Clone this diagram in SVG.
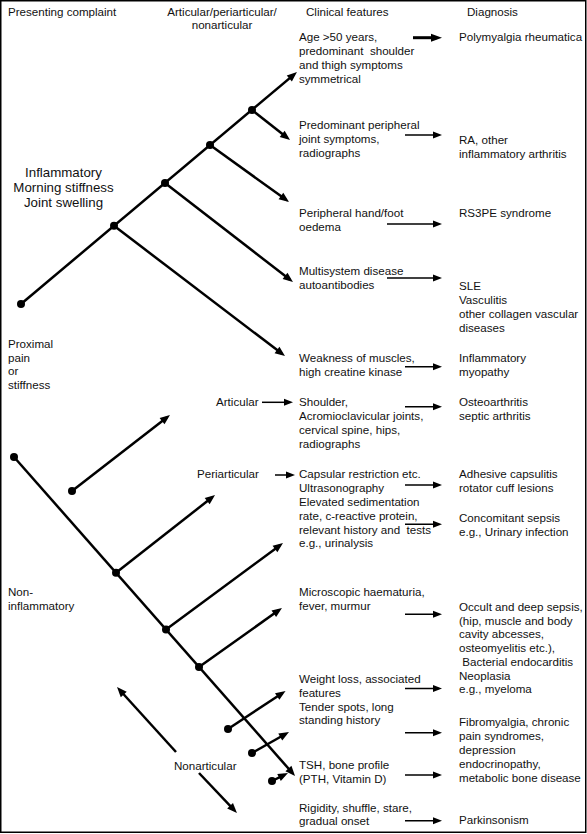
<svg xmlns="http://www.w3.org/2000/svg" width="587" height="834" viewBox="0 0 587 834">
<style>
text{font-family:"Liberation Sans",Arial,sans-serif;font-size:11.6px;fill:#111;white-space:pre}
.big{font-size:13.3px;text-anchor:middle}
.mid{text-anchor:middle}
.t{stroke:#000;stroke-width:2.5;fill:none}
.h{stroke:#000;stroke-width:1.5;fill:none}
.hk{stroke:#000;stroke-width:3;fill:none}
.d{fill:#000}
</style>
<defs>
<marker id="ah" markerUnits="userSpaceOnUse" markerWidth="10" markerHeight="8" refX="6" refY="4" orient="auto" overflow="visible"><path d="M0,0 L10,4 L0,8 z" fill="#000"/></marker>
<marker id="as" markerUnits="userSpaceOnUse" markerWidth="9" markerHeight="7" refX="6" refY="3.5" orient="auto" overflow="visible"><path d="M0,0 L9,3.5 L0,7 z" fill="#000"/></marker>
<marker id="ak" markerUnits="userSpaceOnUse" markerWidth="11" markerHeight="8" refX="6" refY="4" orient="auto" overflow="visible"><path d="M0,0 L11,4 L0,8 z" fill="#000"/></marker>
</defs>
<rect x="0.75" y="0.75" width="585" height="831.5" fill="#fff" stroke="#000" stroke-width="1.5"/>

<g id="headers">
<text x="8" y="15.5">Presenting complaint</text>
<text class="mid" x="222" y="15.5">Articular/periarticular/</text>
<text class="mid" x="222" y="28.5">nonarticular</text>
<text x="306" y="15.5">Clinical features</text>
<text x="467" y="15.5">Diagnosis</text>
</g>

<g id="inflammatory">
<text class="big" x="63.5" y="176.5">Inflammatory</text>
<text class="big" x="63.5" y="191.5">Morning stiffness</text>
<text class="big" x="63.5" y="206.5">Joint swelling</text>
</g>
<g id="proximal">
<text x="8" y="347.7">Proximal</text>
<text x="8" y="361.5">pain</text>
<text x="8" y="375.3">or</text>
<text x="8" y="389.3">stiffness</text>
</g>
<g id="noninflammatory">
<text x="8" y="595.7">Non-</text>
<text x="8" y="609.5">inflammatory</text>
</g>
<g id="articular"><text x="216" y="406">Articular</text></g>
<g id="periarticular"><text x="197" y="478">Periarticular</text></g>
<g id="nonarticular"><text x="174" y="770">Nonarticular</text></g>

<g id="cf-age">
<text x="299" y="41">Age &gt;50 years,</text>
<text x="299" y="55">predominant  shoulder</text>
<text x="299" y="69">and thigh symptoms</text>
<text x="299" y="83">symmetrical</text>
</g>
<g id="dx-pmr"><text x="459" y="41">Polymyalgia rheumatica</text></g>

<g id="cf-peripheral">
<text x="299" y="129">Predominant peripheral</text>
<text x="299" y="143">joint symptoms,</text>
<text x="299" y="157">radiographs</text>
</g>
<g id="dx-ra">
<text x="459" y="144">RA, other</text>
<text x="459" y="158">inflammatory arthritis</text>
</g>

<g id="cf-oedema">
<text x="299" y="216.7">Peripheral hand/foot</text>
<text x="299" y="230.7">oedema</text>
</g>
<g id="dx-rs3pe"><text x="459" y="216.7">RS3PE syndrome</text></g>

<g id="cf-multisystem">
<text x="299" y="275">Multisystem disease</text>
<text x="299" y="289">autoantibodies</text>
</g>
<g id="dx-sle">
<text x="459" y="290">SLE</text>
<text x="459" y="304">Vasculitis</text>
<text x="459" y="318">other collagen vascular</text>
<text x="459" y="332">diseases</text>
</g>

<g id="cf-weakness">
<text x="299" y="361.7">Weakness of muscles,</text>
<text x="299" y="375.7">high creatine kinase</text>
</g>
<g id="dx-myopathy">
<text x="459" y="361.7">Inflammatory</text>
<text x="459" y="375.7">myopathy</text>
</g>

<g id="cf-shoulder">
<text x="299" y="405.7">Shoulder,</text>
<text x="299" y="419.7">Acromioclavicular joints,</text>
<text x="299" y="433.7">cervical spine, hips,</text>
<text x="299" y="447.5">radiographs</text>
</g>
<g id="dx-oa">
<text x="459" y="405.7">Osteoarthritis</text>
<text x="459" y="419.7">septic arthritis</text>
</g>

<g id="cf-capsular">
<text x="299" y="477.5">Capsular restriction etc.</text>
<text x="299" y="491.5">Ultrasonography</text>
<text x="299" y="505.5">Elevated sedimentation</text>
<text x="299" y="519.5">rate, c-reactive protein,</text>
<text x="299" y="533.5">relevant history and  tests</text>
<text x="299" y="547.3">e.g., urinalysis</text>
</g>
<g id="dx-adhesive">
<text x="459" y="477.5">Adhesive capsulitis</text>
<text x="459" y="491.5">rotator cuff lesions</text>
</g>
<g id="dx-sepsis">
<text x="459" y="521.7">Concomitant sepsis</text>
<text x="459" y="535.7">e.g., Urinary infection</text>
</g>

<g id="cf-microscopic">
<text x="299" y="596">Microscopic haematuria,</text>
<text x="299" y="609.7">fever, murmur</text>
</g>
<g id="dx-occult">
<text x="459" y="610.7">Occult and deep sepsis,</text>
<text x="459" y="624.5">(hip, muscle and body</text>
<text x="459" y="638.3">cavity abcesses,</text>
<text x="459" y="652">osteomyelitis etc.),</text>
<text x="459" y="665.8"> Bacterial endocarditis</text>
<text x="459" y="679.6">Neoplasia</text>
<text x="459" y="693.4">e.g., myeloma</text>
</g>

<g id="cf-weight">
<text x="299" y="683.3">Weight loss, associated</text>
<text x="299" y="697">features</text>
</g>
<g id="cf-tender">
<text x="299" y="710.7">Tender spots, long</text>
<text x="299" y="724.4">standing history</text>
</g>
<g id="dx-fibro">
<text x="459" y="726">Fibromyalgia, chronic</text>
<text x="459" y="740">pain syndromes,</text>
<text x="459" y="754">depression</text>
<text x="459" y="768">endocrinopathy,</text>
<text x="459" y="781.7">metabolic bone disease</text>
</g>
<g id="cf-tsh">
<text x="299" y="769.3">TSH, bone profile</text>
<text x="299" y="783.3">(PTH, Vitamin D)</text>
</g>
<g id="cf-rigidity">
<text x="299" y="811.7">Rigidity, shuffle, stare,</text>
<text x="299" y="825.3">gradual onset</text>
</g>
<g id="dx-parkinsonism"><text x="459" y="824">Parkinsonism</text></g>

<g id="connectors">
<!-- inflammatory tree -->
<path class="t" d="M21,304 L293.9,74.6" marker-end="url(#ah)"/>
<path class="t" d="M252,110 L286.9,137.5" marker-end="url(#ah)"/>
<path class="t" d="M210,145 L285.8,199.6" marker-end="url(#ah)"/>
<path class="t" d="M165,183 L289.8,279.6" marker-end="url(#ah)"/>
<path class="t" d="M114,225.8 L281.8,353.6" marker-end="url(#ah)"/>
<circle class="d" cx="21" cy="304" r="4"/>
<circle class="d" cx="114" cy="225.8" r="4"/>
<circle class="d" cx="165" cy="183" r="4"/>
<circle class="d" cx="210" cy="145" r="4"/>
<circle class="d" cx="252" cy="110" r="4"/>
<!-- non-inflammatory tree -->
<path class="t" d="M14,457 L292.4,773" marker-end="url(#ah)"/>
<path class="t" d="M72,491 L166.8,417.5" marker-end="url(#ah)"/>
<path class="t" d="M116,572.8 L211.9,497.5" marker-end="url(#ah)"/>
<path class="t" d="M166,629.5 L279.8,545.4" marker-end="url(#ah)"/>
<path class="t" d="M199,667 L278.7,610.3" marker-end="url(#ah)"/>
<path class="t" d="M228,729 L282.2,693.2" marker-end="url(#ah)"/>
<path class="t" d="M252,753 L285.5,734" marker-end="url(#ah)"/>
<path class="t" d="M272,781 L284.4,774.8" marker-end="url(#ah)"/>
<path class="t" d="M176,752 L119.7,690" marker-end="url(#ah)"/>
<path class="t" d="M199,773 L234.2,810.1" marker-end="url(#ah)"/>
<circle class="d" cx="14" cy="457" r="4"/>
<circle class="d" cx="72" cy="491" r="4"/>
<circle class="d" cx="116" cy="572.8" r="4"/>
<circle class="d" cx="166" cy="629.5" r="4"/>
<circle class="d" cx="199" cy="667" r="4"/>
<circle class="d" cx="228" cy="729" r="4"/>
<circle class="d" cx="252" cy="753" r="4"/>
<circle class="d" cx="272" cy="781" r="4"/>
<!-- horizontal arrows -->
<path class="hk" d="M413,37.7 L437,37.7" marker-end="url(#ak)"/>
<path class="h" d="M405,135 L439,135" marker-end="url(#as)"/>
<path class="h" d="M387,224 L439,224" marker-end="url(#as)"/>
<path class="h" d="M387,278 L439,278" marker-end="url(#as)"/>
<path class="h" d="M405,366.7 L439,366.7" marker-end="url(#as)"/>
<path class="h" d="M262,402.3 L290,402.3" marker-end="url(#as)"/>
<path class="h" d="M405,406.7 L439,406.7" marker-end="url(#as)"/>
<path class="h" d="M275,475 L292,475" marker-end="url(#as)"/>
<path class="h" d="M405,485 L439,485" marker-end="url(#as)"/>
<path class="h" d="M405,524.3 L439,524.3" marker-end="url(#as)"/>
<path class="h" d="M405,614.3 L439,614.3" marker-end="url(#as)"/>
<path class="h" d="M405,688.5 L439,688.5" marker-end="url(#as)"/>
<path class="h" d="M405,732.7 L439,732.7" marker-end="url(#as)"/>
<path class="h" d="M405,775 L439,775" marker-end="url(#as)"/>
<path class="h" d="M405,820.7 L439,820.7" marker-end="url(#as)"/>
</g>
</svg>
